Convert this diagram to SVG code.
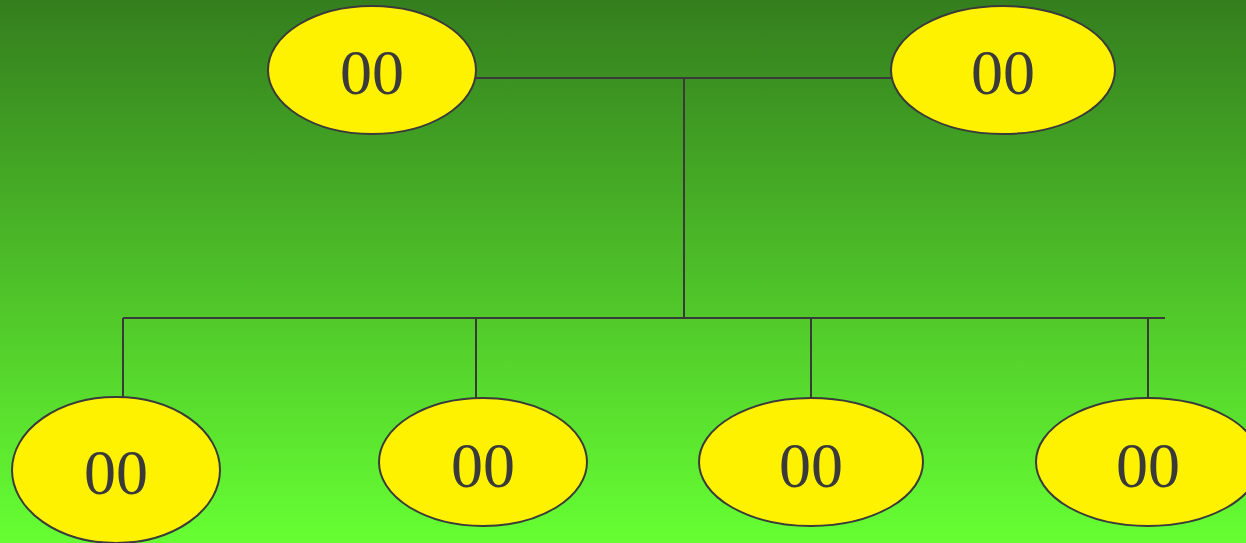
<svg xmlns="http://www.w3.org/2000/svg" width="1246" height="543" viewBox="0 0 1246 543">
<defs>
<linearGradient id="bg" x1="0" y1="0" x2="0" y2="1">
<stop offset="0" stop-color="#347e1e"/>
<stop offset="1" stop-color="#66ff33"/>
</linearGradient>
<style>
.n ellipse{fill:#fff200;stroke:#3a3a3a;stroke-width:2}
.n text{font-family:"Liberation Serif",serif;font-size:64px;fill:#3a3a3a;text-anchor:middle}
.c line{stroke:#3a3a3a;stroke-width:2}
</style>
</defs>
<rect width="1246" height="543" fill="url(#bg)"/>
<g class="c">
<line x1="476" y1="78" x2="892" y2="78"/>
<line x1="684" y1="78" x2="684" y2="318"/>
<line x1="123" y1="318" x2="1165" y2="318"/>
<line x1="123" y1="318" x2="123" y2="398"/>
<line x1="476" y1="318" x2="476" y2="398"/>
<line x1="811" y1="318" x2="811" y2="398"/>
<line x1="1148" y1="318" x2="1148" y2="398"/>
</g>
<g id="n1" class="n"><ellipse cx="372" cy="70" rx="104" ry="64"/><text x="372" y="94">00</text></g>
<g id="n2" class="n"><ellipse cx="1003" cy="70" rx="112" ry="64"/><text x="1003" y="94">00</text></g>
<g id="n3" class="n"><ellipse cx="116" cy="470" rx="104" ry="73"/><text x="116" y="494">00</text></g>
<g id="n4" class="n"><ellipse cx="483" cy="462" rx="104" ry="64"/><text x="483" y="487">00</text></g>
<g id="n5" class="n"><ellipse cx="811" cy="462" rx="112" ry="64"/><text x="811" y="487">00</text></g>
<g id="n6" class="n"><ellipse cx="1148" cy="462" rx="112" ry="64"/><text x="1148" y="487">00</text></g>
</svg>
